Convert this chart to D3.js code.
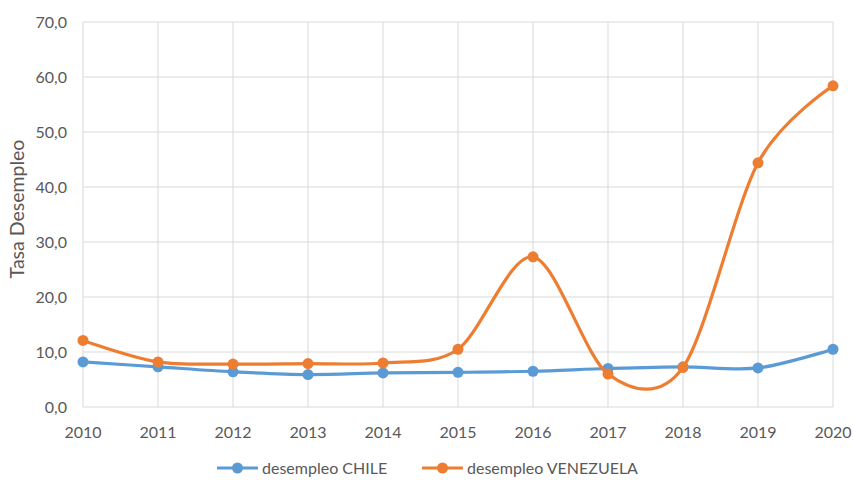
<!DOCTYPE html>
<html><head><meta charset="utf-8">
<script src="https://cdn.jsdelivr.net/npm/d3@7"></script>
<style>body{margin:0;background:#fff}svg{display:block}text{font-family:Lato,"Open Sans",sans-serif;fill:#595959}</style>
</head><body><svg id="c" width="853" height="480"></svg>
<script>
const years = [2010,2011,2012,2013,2014,2015,2016,2017,2018,2019,2020];
const chile = [8.2,7.3,6.4,5.9,6.2,6.3,6.5,7.0,7.3,7.1,10.5];
const venezuela = [12.1,8.2,7.8,7.9,8.0,10.5,27.3,6.0,7.2,44.4,58.4];
const yTicks = [0,10,20,30,40,50,60,70];
const seriesNames = ["desempleo CHILE","desempleo VENEZUELA"];
const colors = ["#5B9BD5","#ED7D31"];

const svg = d3.select("#c");
const x = d3.scaleLinear().domain([2010,2020]).range([83,833]);
const y = d3.scaleLinear().domain([0,70]).range([407,22]);

// grid
svg.append("g").selectAll("line").data(yTicks).join("line")
  .attr("x1",83).attr("x2",833).attr("y1",d=>y(d)).attr("y2",d=>y(d))
  .attr("stroke","#d9d9d9").attr("stroke-width",1);
svg.append("g").selectAll("line").data(years).join("line")
  .attr("x1",d=>x(d)).attr("x2",d=>x(d)).attr("y1",22).attr("y2",407)
  .attr("stroke","#d9d9d9").attr("stroke-width",1);

// axis labels
const fmt = d => d3.format(".1f")(d).replace(".",",");
svg.append("g").selectAll("text").data(yTicks).join("text")
  .attr("x",67).attr("y",d=>y(d)).attr("dy","0.35em").attr("text-anchor","end")
  .attr("font-size",16).text(fmt);
svg.append("g").selectAll("text").data(years).join("text")
  .attr("x",d=>x(d)).attr("y",432).attr("dy","0.35em").attr("text-anchor","middle")
  .attr("font-size",16).text(d=>d);
svg.append("text").attr("transform","translate(17,209) rotate(-90)")
  .attr("text-anchor","middle").attr("dy","0.35em").attr("font-size",19.5).text("Tasa Desempleo");

const line = d3.line().x((d,i)=>x(years[i])).y(d=>y(d)).curve(d3.curveCardinal.tension(0.08));
[chile,venezuela].forEach((s,k)=>{
  const g = svg.append("g");
  g.append("path").attr("d",line(s)).attr("fill","none").attr("stroke",colors[k])
    .attr("stroke-width",3.2).attr("stroke-linecap","round");
  g.selectAll("circle").data(s).join("circle")
    .attr("cx",(d,i)=>x(years[i])).attr("cy",d=>y(d)).attr("r",5.5).attr("fill",colors[k]);
});

// legend
const leg = [{x:217,tx:262},{x:422,tx:467}];
leg.forEach((l,k)=>{
  svg.append("line").attr("x1",l.x).attr("x2",l.x+41).attr("y1",468).attr("y2",468)
    .attr("stroke",colors[k]).attr("stroke-width",3);
  svg.append("circle").attr("cx",l.x+20.5).attr("cy",468).attr("r",5.5).attr("fill",colors[k]);
  svg.append("text").attr("x",l.tx).attr("y",468).attr("dy","0.35em").attr("font-size",16).text(seriesNames[k]);
});
</script></body></html>
